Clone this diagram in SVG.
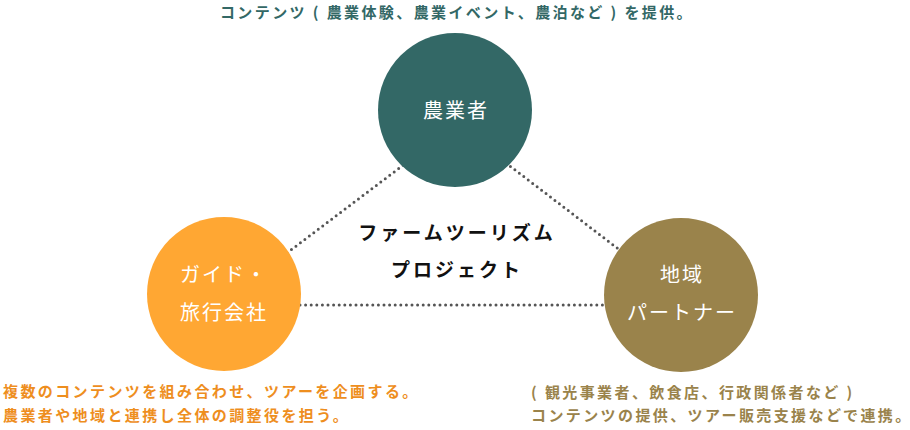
<svg xmlns="http://www.w3.org/2000/svg" width="910" height="430" viewBox="0 0 910 430">
<style>
text{font-family:"Noto Sans CJK JP","Noto Sans",sans-serif;}
.lbl{fill:#ffffff;font-size:20px;text-anchor:middle;letter-spacing:2px;}
.note{font-size:15px;font-weight:bold;letter-spacing:2.4px;}
.ctr{fill:#111111;font-size:19px;font-weight:bold;text-anchor:middle;letter-spacing:3px;}
.dot{stroke:#555555;stroke-width:3;stroke-linecap:round;stroke-dasharray:0 5.6;fill:none;}
</style>
<rect width="910" height="430" fill="#ffffff"/>
<g id="connectors">
<line class="dot" x1="287" y1="253" x2="406" y2="163"/>
<line class="dot" x1="506" y1="163" x2="625" y2="254"/>
<line class="dot" x1="300" y1="305" x2="608" y2="305"/>
</g>
<g id="farmer">
<circle cx="455" cy="110" r="77" fill="#336866"/>
<text class="lbl" x="456" y="118" font-size="21">農業者</text>
</g>
<g id="guide">
<circle cx="224" cy="294" r="77" fill="#FFA733"/>
<text class="lbl" x="224" y="282">ガイド・</text>
<text class="lbl" x="224" y="320">旅行会社</text>
</g>
<g id="partner">
<circle cx="681" cy="295" r="77" fill="#9A834B"/>
<text class="lbl" x="682" y="282">地域</text>
<text class="lbl" x="682" y="320">パートナー</text>
</g>
<g id="project">
<text class="ctr" x="457" y="240">ファームツーリズム</text>
<text class="ctr" x="457" y="277">プロジェクト</text>
</g>
<g id="notes">
<text class="note" x="457" y="18" fill="#336866" text-anchor="middle" letter-spacing="1.8">コンテンツ ( 農業体験、農業イベント、農泊など ) を提供。</text>
<text class="note" x="3" y="397" fill="#EE8E1E">複数のコンテンツを組み合わせ、ツアーを企画する。</text>
<text class="note" x="3" y="421" fill="#EE8E1E">農業者や地域と連携し全体の調整役を担う。</text>
<text class="note" x="531" y="398" fill="#9A834B" letter-spacing="1.6">( 観光事業者、飲食店、行政関係者など )</text>
<text class="note" x="531" y="421" fill="#9A834B" font-size="14.6" letter-spacing="1.4">コンテンツの提供、ツアー販売支援などで連携。</text>
</g>
</svg>
